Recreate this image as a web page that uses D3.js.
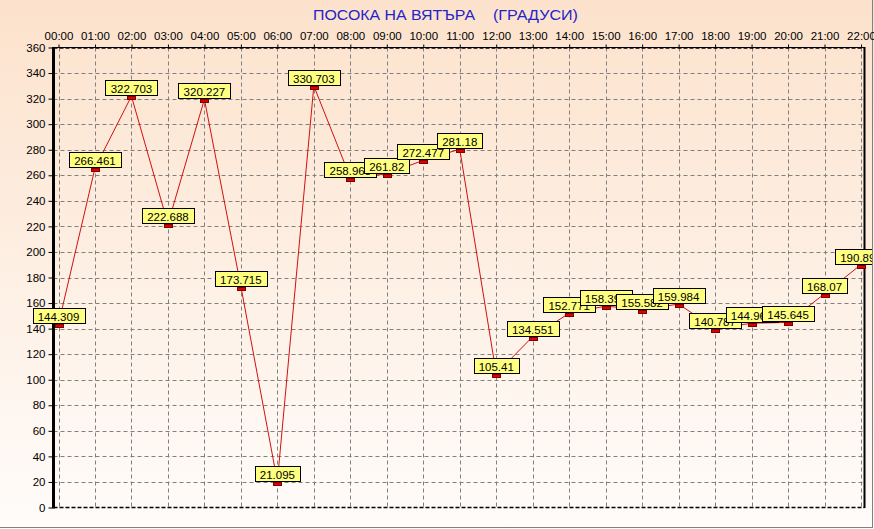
<!DOCTYPE html>
<html><head><meta charset="utf-8">
<script src="https://cdn.jsdelivr.net/npm/d3@7"></script>
<style>
html,body{margin:0;padding:0;background:#fff;}
svg{display:block;font-family:"Liberation Sans",Arial,sans-serif;}
</style></head>
<body>
<svg id="chart" width="874" height="529"></svg>
<script>
const hours = ["00:00","01:00","02:00","03:00","04:00","05:00","06:00","07:00","08:00","09:00","10:00","11:00","12:00","13:00","14:00","15:00","16:00","17:00","18:00","19:00","20:00","21:00","22:00"];
const values = [144.309,266.461,322.703,222.688,320.227,173.715,21.095,330.703,258.968,261.82,272.477,281.18,105.41,134.551,152.771,158.392,155.582,159.984,140.787,144.968,145.645,168.07,190.891];
const yTicks = [0,20,40,60,80,100,120,140,160,180,200,220,240,260,280,300,320,340,360];
const titleParts = ["ПОСОКА НА ВЯТЪРА","(ГРАДУСИ)"];

(function(){
const svg = d3.select("#chart");
const W = 874, H = 529;
const pLeft = 53.5, pRight = 864.5, pTop = 47.5, pBottom = 507.5;

const defs = svg.append("defs");
const grad = defs.append("linearGradient").attr("id","bg").attr("x1",0).attr("y1",0).attr("x2",0).attr("y2",1);
grad.append("stop").attr("offset","0%").attr("stop-color","#fce2cc");
grad.append("stop").attr("offset","100%").attr("stop-color","#fffcfa");
defs.append("clipPath").attr("id","clipAll").append("rect").attr("x",0).attr("y",0).attr("width",872).attr("height",527);

svg.append("rect").attr("width",W).attr("height",H).attr("fill","url(#bg)");
svg.append("line").attr("x1",0).attr("x2",873).attr("y1",527.5).attr("y2",527.5).attr("stroke","#808080");
svg.append("line").attr("x1",872.5).attr("x2",872.5).attr("y1",0).attr("y2",528).attr("stroke","#808080");

const x = d3.scalePoint().domain(hours).range([58.5, 861]);
const y = d3.scaleLinear().domain([0,360]).range([pBottom, pTop]);

svg.append("text").attr("x",313).attr("y",20).attr("font-size",15).attr("fill","#2424c8")
  .attr("textLength",162).attr("lengthAdjust","spacingAndGlyphs").text(titleParts[0]);
svg.append("text").attr("x",493).attr("y",20).attr("font-size",15).attr("fill","#2424c8")
  .attr("textLength",85).attr("lengthAdjust","spacingAndGlyphs").text(titleParts[1]);

const grid = svg.append("g").attr("stroke","#808080").attr("stroke-dasharray","4,3").attr("stroke-width",1);
grid.selectAll("line.h").data(yTicks.filter(d=>d>0 && d<360)).join("line").attr("class","h")
  .attr("x1",pLeft).attr("x2",pRight).attr("y1",d=>Math.round(y(d))+0.5).attr("y2",d=>Math.round(y(d))+0.5);
grid.selectAll("line.v").data(hours).join("line").attr("class","v")
  .attr("x1",d=>Math.round(x(d))+0.5).attr("x2",d=>Math.round(x(d))+0.5).attr("y1",pTop).attr("y2",pBottom);

svg.append("line").attr("x1",pLeft).attr("x2",pRight).attr("y1",pTop).attr("y2",pTop).attr("stroke","#000").attr("stroke-width",1);
svg.append("line").attr("x1",pLeft).attr("x2",pRight).attr("y1",pTop+0.5).attr("y2",pTop+0.5).attr("stroke","#000").attr("stroke-width",1.5).attr("stroke-dasharray","4,2");
svg.append("line").attr("x1",pLeft).attr("x2",pRight).attr("y1",pBottom).attr("y2",pBottom).attr("stroke","#000").attr("stroke-width",1.5).attr("stroke-dasharray","4,2");
svg.append("line").attr("x1",pRight).attr("x2",pRight).attr("y1",pTop-0.5).attr("y2",pBottom+0.5).attr("stroke","#000").attr("stroke-width",2);

const axL = svg.append("g").attr("transform",`translate(${pLeft-1},0)`)
  .call(d3.axisLeft(y).tickValues(yTicks).tickSize(4).tickPadding(3).tickFormat(d3.format("d")));
axL.select(".domain").remove();
axL.selectAll("line").attr("stroke","#000");
axL.selectAll("text").attr("font-size",11.5).attr("fill","#000").attr("font-family","Liberation Sans, Arial, sans-serif");
svg.append("line").attr("x1",pLeft).attr("x2",pLeft).attr("y1",pTop-0.5).attr("y2",pBottom+1).attr("stroke","#000").attr("stroke-width",3);

const axT = svg.append("g").attr("transform",`translate(0,${pTop})`)
  .call(d3.axisTop(x).tickSize(3).tickPadding(5));
axT.select(".domain").remove();
axT.selectAll("line").attr("stroke","#000");
axT.selectAll("text").attr("font-size",11.5).attr("fill","#000").attr("font-family","Liberation Sans, Arial, sans-serif");

const data = hours.map((h,i)=>({h, v: values[i]}));
const gAll = svg.append("g").attr("clip-path","url(#clipAll)");
gAll.append("path").datum(data)
  .attr("fill","none").attr("stroke","#d01010").attr("stroke-width",1)
  .attr("d", d3.line().x(d=>x(d.h)).y(d=>y(d.v)+1));

gAll.selectAll("rect.mk").data(data).join("rect").attr("class","mk")
  .attr("x",d=>Math.round(x(d.h))-3.5).attr("y",d=>Math.round(y(d.v))+1.5)
  .attr("width",8).attr("height",3)
  .attr("fill","#dd0000").attr("stroke","#800000").attr("stroke-width",1);

data.forEach(d=>{
  const px = x(d.h), py = Math.round(y(d.v));
  const g = gAll.append("g");
  const t = g.append("text").attr("font-size",11.5).attr("fill","#000").attr("text-anchor","middle")
    .attr("x",px).attr("y",py-2.5).text(String(d.v));
  const w = t.node().getComputedTextLength();
  const bw = Math.round(w + 10);
  g.insert("rect","text").attr("x",Math.round(px - bw/2)+0.5).attr("y",py-14.5)
    .attr("width",bw).attr("height",15).attr("fill","#ffff80").attr("stroke","#000").attr("stroke-width",1);
});
})();
</script>
</body></html>
